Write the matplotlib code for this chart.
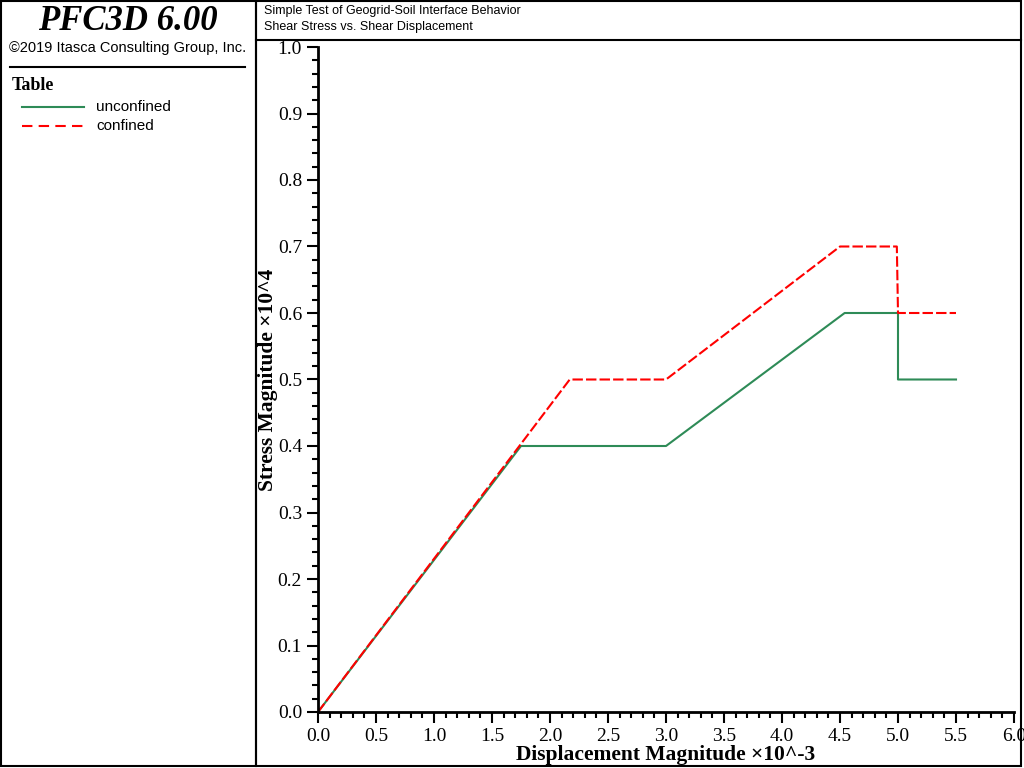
import matplotlib
matplotlib.use("Agg")
import matplotlib.pyplot as plt
from matplotlib.patches import Rectangle
from matplotlib.lines import Line2D
from matplotlib.ticker import MultipleLocator

unconf_x = [0.0, 1.75, 3.0, 4.54, 5.0, 5.0, 5.5]
unconf_y = [0.0, 0.4, 0.4, 0.6, 0.6, 0.5, 0.5]
conf_x = [0.0, 2.17, 3.0, 4.5, 4.99, 5.0, 5.5]
conf_y = [0.0, 0.5, 0.5, 0.7, 0.7, 0.6, 0.6]

W, H = 1024, 768
fig = plt.figure(figsize=(W/100, H/100), dpi=100)
serif = "Liberation Serif"
sans = "Liberation Sans"

def fx(px): return px / W
def fy(py): return 1 - py / H

fig.add_artist(Rectangle((fx(1), fy(766)), fx(255), (765)/H, transform=fig.transFigure, fill=False, lw=1.5, color='black'))
fig.add_artist(Rectangle((fx(256), fy(766)), fx(765), (765)/H, transform=fig.transFigure, fill=False, lw=1.5, color='black'))
fig.add_artist(Line2D([fx(256), fx(1021)], [fy(40), fy(40)], transform=fig.transFigure, lw=1.5, color='black'))
fig.add_artist(Line2D([fx(10), fx(245)], [fy(67), fy(67)], transform=fig.transFigure, lw=1.5, color='black'))

fig.text(fx(128), fy(22), "PFC3D 6.00", ha='center', va='center', fontsize=25, fontweight='bold', fontstyle='italic', family=serif)
fig.text(fx(128), fy(48), "©2019 Itasca Consulting Group, Inc.", ha='center', va='center', fontsize=10.5, family=sans)
fig.text(fx(12), fy(86), "Table", ha='left', va='center', fontsize=13, fontweight='bold', family=serif)
fig.add_artist(Line2D([fx(22), fx(84)], [fy(107), fy(107)], transform=fig.transFigure, color='#2e8b57', lw=1.5))
fig.text(fx(96), fy(107), "unconfined", ha='left', va='center', fontsize=11, family=sans)
fig.add_artist(Line2D([fx(22), fx(84)], [fy(126), fy(126)], transform=fig.transFigure, color='red', lw=1.5, ls=(0, (5, 3))))
fig.text(fx(96), fy(126), "confined", ha='left', va='center', fontsize=11, family=sans)

fig.text(fx(264), fy(11), "Simple Test of Geogrid-Soil Interface Behavior", ha='left', va='center', fontsize=9, family=sans)
fig.text(fx(264), fy(27), "Shear Stress vs. Shear Displacement", ha='left', va='center', fontsize=9, family=sans)

ax = fig.add_axes([fx(318), fy(712), fx(1014-318), (712-47)/H])
ax.plot(unconf_x, unconf_y, color='#2e8b57', lw=1.5)
ax.plot(conf_x, conf_y, color='red', lw=1.5, ls=(0, (5, 1.5)))
ax.set_xlim(0, 6)
ax.set_ylim(0, 1)
ax.spines['top'].set_visible(False)
ax.spines['right'].set_visible(False)
for s in ('left', 'bottom'):
    ax.spines[s].set_linewidth(2)
ax.xaxis.set_major_locator(MultipleLocator(0.5))
ax.xaxis.set_minor_locator(MultipleLocator(0.1))
ax.yaxis.set_major_locator(MultipleLocator(0.1))
ax.yaxis.set_minor_locator(MultipleLocator(0.02))
ax.tick_params(which='major', length=8, width=1.5, labelsize=14)
ax.tick_params(which='minor', length=4, width=1.5)
ax.set_xticklabels([f"{v:.1f}" for v in ax.get_xticks()], family=serif)
ax.set_yticklabels([f"{v:.1f}" for v in ax.get_yticks()], family=serif)
ax.set_xlabel("Displacement Magnitude ×10^-3", fontsize=15.5, fontweight='bold', family=serif, labelpad=0)
ax.set_ylabel("Stress Magnitude ×10^4", fontsize=15.5, fontweight='bold', family=serif, labelpad=0)
fig.savefig("out.png", dpi=100)
